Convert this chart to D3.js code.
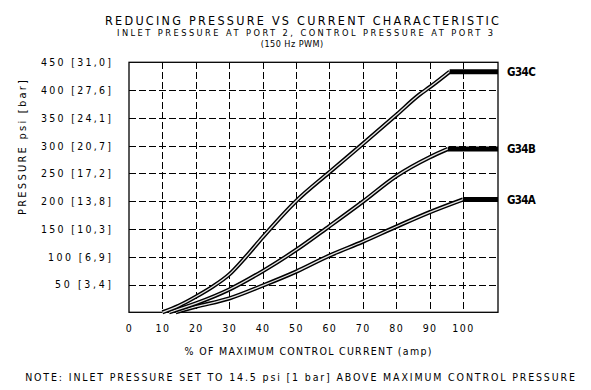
<!DOCTYPE html>
<html><head><meta charset="utf-8">
<script src="https://cdn.jsdelivr.net/npm/d3@7"></script>
<style>
html,body{margin:0;padding:0;background:#fff;}
svg{display:block;}
text{font-family:"Liberation Sans Narrow","DejaVu Sans Condensed","Liberation Sans",sans-serif;fill:#000;}
</style></head><body>
<svg id="c" width="591" height="390"></svg>
<script>
// ---- data ----
const seriesNames = ["G34A", "G34B", "G34C"];
const currentA = [14, 20, 30, 40, 50, 60, 70, 80, 90, 100];
const pressureA = [0, 10, 25, 48, 73, 102, 127, 154, 180, 203];
const currentB = [12, 20, 30, 40, 50, 60, 70, 80, 90, 95.5];
const pressureB = [0, 16, 41, 74, 112, 155, 199, 245, 279, 294];
const currentC = [10, 15, 20, 25, 30, 35, 40, 50, 60, 70, 80, 87, 90, 96];
const pressureC = [0, 12, 28, 46, 68, 100, 135, 200, 252, 303, 355, 392, 405, 433];
const xTicks = [0, 10, 20, 30, 40, 50, 60, 70, 80, 90, 100];
const xTickLabels = ["0", "10", "20", "30", "40", "50", "60", "70", "80", "90", "100"];
const yTicks = [50, 100, 150, 200, 250, 300, 350, 400, 450];
const yTickLabels = ["50 [3,4]", "100 [6,9]", "150 [10,3]", "200 [13,8]", "250 [17,2]",
                     "300 [20,7]", "350 [24,1]", "400 [27,6]", "450 [31,0]"];
const titleText = "REDUCING PRESSURE VS CURRENT CHARACTERISTIC";
const subtitleText = "INLET PRESSURE AT PORT 2, CONTROL PRESSURE AT PORT 3";
const subtitle2Text = "(150 Hz PWM)";
const xTitle = "% OF MAXIMUM CONTROL CURRENT (amp)";
const yTitle = "PRESSURE psi [bar]";
const noteText = "NOTE: INLET PRESSURE SET TO 14.5 psi [1 bar] ABOVE MAXIMUM CONTROL PRESSURE";

const series = [
  {name: seriesNames[0], x: currentA, y: pressureA},
  {name: seriesNames[1], x: currentB, y: pressureB},
  {name: seriesNames[2], x: currentC, y: pressureC}
];

// ---- layout ----
const svg = d3.select("#c");
const x = d3.scaleLinear().domain([0, 110.5]).range([129, 498]);
const y = d3.scaleLinear().domain([0, 450]).range([312.3, 62.3]);

function fit(sel, perChar) {
  sel.attr("textLength", function () { return this.textContent.length * perChar; })
     .attr("lengthAdjust", "spacing");
}

// grid
const grid = svg.append("g").attr("stroke", "#000").attr("stroke-width", 1)
  .attr("stroke-dasharray", "7,3").attr("shape-rendering", "crispEdges");
grid.selectAll("line.h").data(yTicks.filter(d => d < 450)).join("line")
  .attr("x1", x(0)).attr("x2", x(110.5))
  .attr("y1", d => Math.round(y(d)) + 0.5).attr("y2", d => Math.round(y(d)) + 0.5);
grid.selectAll("line.v").data(xTicks.filter(d => d > 0)).join("line")
  .attr("y1", y(450)).attr("y2", y(0))
  .attr("x1", d => Math.round(x(d)) + 0.5).attr("x2", d => Math.round(x(d)) + 0.5);

// frame
svg.append("rect")
  .attr("x", x(0)).attr("y", y(450))
  .attr("width", x(110.5) - x(0)).attr("height", y(0) - y(450))
  .attr("fill", "none").attr("stroke", "#000").attr("stroke-width", 1.3);

// axes
const xAxis = svg.append("g").attr("transform", `translate(0,${y(0)})`)
  .call(d3.axisBottom(x).tickValues(xTicks).tickFormat((d, i) => xTickLabels[i])
    .tickSize(0).tickPadding(12.3));
xAxis.select(".domain").remove();
xAxis.selectAll("text").attr("font-size", 10.5).attr("font-family", null)
  .style("letter-spacing", "1.4px");

const yAxis = svg.append("g").attr("transform", `translate(${x(0)},0)`)
  .call(d3.axisLeft(y).tickValues(yTicks).tickFormat((d, i) => yTickLabels[i])
    .tickSize(0).tickPadding(18));
yAxis.select(".domain").remove();
yAxis.selectAll("text").attr("font-size", 10.5).attr("font-family", null).call(fit, 7);

// curves
const line = d3.line().x(d => x(d[0])).y(d => y(d[1])).curve(d3.curveMonotoneX);
const curves = svg.append("g");
series.forEach(s => {
  const pts = s.x.map((v, i) => [v, s.y[i]]);
  curves.append("path").attr("d", line(pts)).attr("fill", "none")
    .attr("stroke", "#000").attr("stroke-width", 4.2).attr("stroke-linejoin", "round");
  curves.append("path").attr("d", line(pts)).attr("fill", "none")
    .attr("stroke", "#e4e4e4").attr("stroke-width", 1.3).attr("stroke-linejoin", "round");
  const last = pts[pts.length - 1];
  curves.append("line")
    .attr("x1", x(last[0])).attr("x2", x(110.5))
    .attr("y1", y(last[1])).attr("y2", y(last[1]))
    .attr("stroke", "#000").attr("stroke-width", 5);
  svg.append("text").attr("x", x(110.5) + 9).attr("y", y(last[1]) + 4.2)
    .attr("font-size", 11.5).attr("font-weight", "600").text(s.name).call(fit, 7.2);
});

// titles
svg.append("text").attr("x", 302).attr("y", 24.5).attr("text-anchor", "middle")
  .attr("font-size", 12.5).text(titleText).call(fit, 9.16);
svg.append("text").attr("x", 305).attr("y", 36).attr("text-anchor", "middle")
  .attr("font-size", 9.2).text(subtitleText).call(fit, 7.23);
svg.append("text").attr("x", 292).attr("y", 46.8).attr("text-anchor", "middle")
  .attr("font-size", 9).text(subtitle2Text).call(fit, 5.2);

svg.append("text").attr("x", 308).attr("y", 354.6).attr("text-anchor", "middle")
  .attr("font-size", 10.5).text(xTitle).call(fit, 7.26);
svg.append("text").attr("transform", "translate(26,147.5) rotate(-90)")
  .attr("text-anchor", "middle").attr("font-size", 11).text(yTitle).call(fit, 7.5);
svg.append("text").attr("x", 300).attr("y", 381).attr("text-anchor", "middle")
  .attr("font-size", 10.5).text(noteText).call(fit, 7.33);
</script>
</body></html>
